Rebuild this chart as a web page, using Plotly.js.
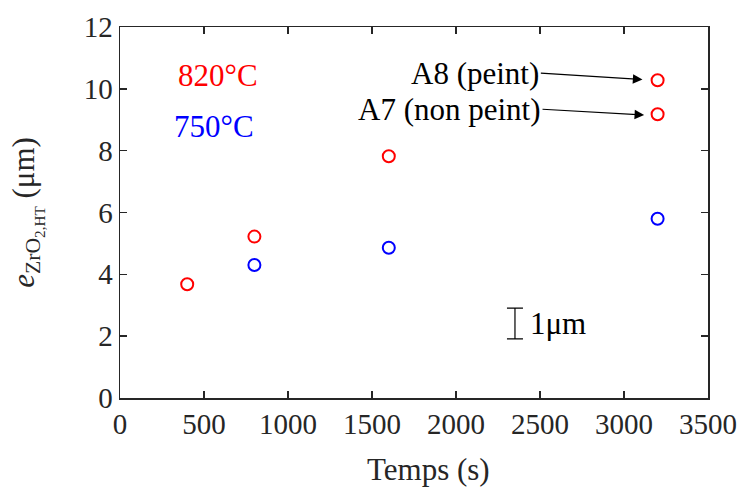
<!DOCTYPE html>
<html>
<head>
<meta charset="utf-8">
<script src="https://cdn.plot.ly/plotly-3.0.1.min.js"></script>
<style>html,body{margin:0;padding:0;background:#fff;}#chart{width:741px;height:490px;}</style>
</head>
<body>
<div id="chart"></div>
<script>
// Data
const time820 = [400, 800, 1600, 3200, 3200];
const thick820 = [3.68, 5.22, 7.82, 10.28, 9.18];
const time750 = [800, 1600, 3200];
const thick750 = [4.3, 4.86, 5.8];
const seriesLabels = ['820°C', '750°C'];
const sampleLabels = ['A8 (peint)', 'A7 (non peint)'];
const scaleLabel = '1μm';
const xTitle = 'Temps (s)';
const yTitle = '<i>e</i><sub>ZrO<sub>2,HT</sub></sub> (μm)';
const xTicks = [0, 500, 1000, 1500, 2000, 2500, 3000, 3500];
const yTicks = [0, 2, 4, 6, 8, 10, 12];

const FONT = '"Liberation Serif", "Times New Roman", serif';
const AX = '#262626';
const FT = 29;   // tick labels
const FS = 31;   // other texts

const traces = [
  {x: time820, y: thick820, mode: 'markers', type: 'scatter', name: seriesLabels[0],
   marker: {symbol: 'circle-open', size: 12, color: '#ff0000', line: {width: 2, color: '#ff0000'}}},
  {x: time750, y: thick750, mode: 'markers', type: 'scatter', name: seriesLabels[1],
   marker: {symbol: 'circle-open', size: 12, color: '#0000ff', line: {width: 2, color: '#0000ff'}}},
  // scale bar (1 µm) drawn as an error bar
  {x: [2351], y: [2.41], mode: 'markers', type: 'scatter', hoverinfo: 'skip',
   marker: {size: 1, color: 'rgba(0,0,0,0)'},
   error_y: {type: 'constant', value: 0.5, color: '#000', thickness: 1.2, width: 8}}
];

const axisCommon = {
  showline: true, linecolor: AX, linewidth: 1.5, mirror: 'ticks',
  ticks: 'inside', ticklen: 7, tickwidth: 1.5, tickcolor: AX,
  showgrid: false, zeroline: false,
  tickfont: {family: FONT, size: FT, color: AX}
};

const layout = {
  width: 741, height: 490,
  margin: {l: 120, r: 33, t: 27, b: 92},
  paper_bgcolor: '#fff', plot_bgcolor: '#fff',
  showlegend: false,
  xaxis: Object.assign({}, axisCommon, {range: [0, 3500], tickvals: xTicks, ticktext: xTicks.map(String)}),
  yaxis: Object.assign({}, axisCommon, {range: [0, 12], tickvals: yTicks, ticktext: yTicks.map(String),
    title: {text: yTitle, font: {family: FONT, size: FS, color: AX}, standoff: 40}}),
  annotations: [
    {xref: 'paper', yref: 'paper', x: 0.524, y: -0.192, text: xTitle, showarrow: false,
     xanchor: 'center', yanchor: 'middle', font: {family: FONT, size: FS, color: AX}},
    {xref: 'x', yref: 'y', x: 586, y: 10.44, text: seriesLabels[0], showarrow: false,
     font: {family: FONT, size: FS, color: '#ff0000'}},
    {xref: 'x', yref: 'y', x: 562, y: 8.79, text: seriesLabels[1], showarrow: false,
     font: {family: FONT, size: FS, color: '#0000ff'}},
    {xref: 'x', yref: 'y', axref: 'x', ayref: 'y', x: 3110, y: 10.3, ax: 2505, ay: 10.51,
     text: sampleLabels[0], xanchor: 'right', yanchor: 'middle',
     showarrow: true, arrowhead: 2, arrowsize: 1.6, arrowwidth: 1.2, arrowcolor: '#000',
     font: {family: FONT, size: FS, color: '#000'}},
    {xref: 'x', yref: 'y', axref: 'x', ayref: 'y', x: 3120, y: 9.15, ax: 2515, ay: 9.34,
     text: sampleLabels[1], xanchor: 'right', yanchor: 'middle',
     showarrow: true, arrowhead: 2, arrowsize: 1.6, arrowwidth: 1.2, arrowcolor: '#000',
     font: {family: FONT, size: FS, color: '#000'}},
    {xref: 'x', yref: 'y', x: 2430, y: 2.42, text: scaleLabel, showarrow: false, xanchor: 'left',
     font: {family: FONT, size: FS, color: '#000'}}
  ]
};

Plotly.newPlot('chart', traces, layout, {displayModeBar: false, staticPlot: true});
</script>
</body>
</html>
